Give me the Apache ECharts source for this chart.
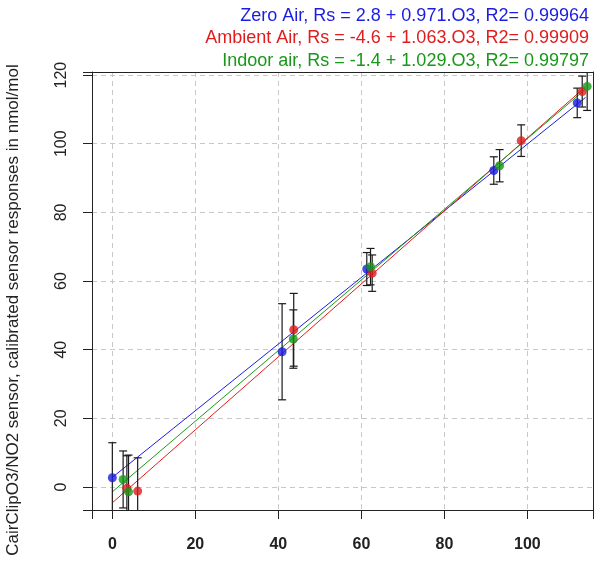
<!DOCTYPE html>
<html>
<head>
<meta charset="utf-8">
<script src="https://cdn.jsdelivr.net/npm/echarts@6/dist/echarts.min.js"></script>
<style>
  html, body { margin: 0; padding: 0; background: #fff; }
  #chart { width: 597px; height: 561px; }
</style>
</head>
<body>
<div id="chart"></div>
<script>
// Zero air
const zeroX = [0, 40.9, 61.3, 91.9, 112.0]
const zeroY = [2.7, 39.4, 63.5, 92.2, 111.9]
const zeroErr = [10.2, 14.0, 4.8, 4.0, 4.3]
// Ambient air
const ambientX = [3.5, 6.1, 43.7, 62.6, 98.5, 113.2]
const ambientY = [-0.4, -1.2, 45.8, 62.3, 100.9, 115.2]
const ambientErr = [9.5, 9.7, 10.6, 5.3, 4.6, 4.5]
// Indoor air
const indoorX = [2.6, 3.9, 43.6, 62.2, 93.3, 114.4]
const indoorY = [2.2, -1.4, 43.1, 64.2, 93.6, 116.7]
const indoorErr = [8.3, 10.7, 8.5, 5.3, 4.7, 7.0]

// fitted lines: intercept, slope (from the legend)
const fitIntercept = [2.8, -4.6, -1.4]
const fitSlope = [0.971, 1.063, 1.029]
const fitRange = [0, 114]

const legendLines = [
  'Zero Air, Rs = 2.8 + 0.971.O3, R2= 0.99964',
  'Ambient Air, Rs = -4.6 + 1.063.O3, R2= 0.99909',
  'Indoor air, Rs = -1.4 + 1.029.O3, R2= 0.99797'
]
const xTicks = [0, 20, 40, 60, 80, 100]
const yTicks = [0, 20, 40, 60, 80, 100, 120]
const xRange = [-4.9, 115.8]
const yRange = [-6.7, 120.9]

const colors = ['#1c1ce0', '#e01c1c', '#189818']
const font = 'Liberation Sans, Arial, sans-serif'
const axisColor = '#222'

const groups = [
  { x: zeroX, y: zeroY, err: zeroErr },
  { x: ambientX, y: ambientY, err: ambientErr },
  { x: indoorX, y: indoorY, err: indoorErr }
]

function pairs (xs, ys) {
  return xs.map((v, i) => [v, ys[i]])
}

function errData (g) {
  return g.x.map((v, i) => [v, g.y[i] - g.err[i], g.y[i] + g.err[i]])
}

function fitLine (k) {
  return fitRange.map(v => [v, fitIntercept[k] + fitSlope[k] * v])
}

// vertical error bar with caps, kept inside the plot box
function renderErr (params, api) {
  const cs = params.coordSys
  const top = cs.y
  const bottom = cs.y + cs.height
  const x = api.value(0)
  const pLo = api.coord([x, api.value(1)])
  const pHi = api.coord([x, api.value(2)])
  const style = { stroke: '#1a1a1a', lineWidth: 1.2 }
  const children = [{
    type: 'line',
    shape: { x1: pLo[0], y1: Math.min(pLo[1], bottom), x2: pHi[0], y2: Math.max(pHi[1], top) },
    style: style
  }]
  ;[pLo, pHi].forEach(p => {
    if (p[1] >= top && p[1] <= bottom) {
      children.push({
        type: 'line',
        shape: { x1: p[0] - 4, y1: p[1], x2: p[0] + 4, y2: p[1] },
        style: style
      })
    }
  })
  return { type: 'group', children: children }
}

const series = []
groups.forEach((g, k) => {
  series.push({
    type: 'line',
    data: fitLine(k),
    showSymbol: false,
    silent: true,
    lineStyle: { color: colors[k], width: 1 },
    z: 2
  })
})
groups.forEach(g => {
  series.push({
    type: 'custom',
    data: errData(g),
    encode: { x: 0, y: [1, 2] },
    renderItem: renderErr,
    silent: true,
    z: 3
  })
})
groups.forEach((g, k) => {
  series.push({
    type: 'scatter',
    data: pairs(g.x, g.y),
    symbolSize: 9,
    itemStyle: { color: colors[k] },
    z: 4
  })
})

// plain axis used only for the top / right side of the box
function boxAxis (pos, range) {
  return {
    type: 'value',
    position: pos,
    min: range[0],
    max: range[1],
    z: 5,
    axisLine: { show: true, onZero: false, lineStyle: { color: axisColor } },
    axisTick: { show: false },
    axisLabel: { show: false },
    splitLine: { show: false }
  }
}

const myChart = echarts.init(document.getElementById('chart'))
myChart.setOption({
  animation: false,
  textStyle: { fontFamily: font },
  grid: {
    left: 92,
    right: 4,
    top: 72,
    bottom: 51
  },
  graphic: legendLines.map((t, k) => ({
    type: 'text',
    right: 8,
    top: 7 + k * 22.5,
    style: {
      text: t,
      fill: colors[k],
      font: '18px ' + font
    }
  })).concat([{
    type: 'text',
    x: 13,
    y: 310,
    rotation: Math.PI / 2,
    style: {
      text: 'CairClipO3/NO2 sensor, calibrated sensor responses in nmol/mol',
      fill: '#222',
      font: '17px ' + font,
      textAlign: 'center',
      textVerticalAlign: 'middle'
    }
  }]),
  xAxis: [{
    type: 'value',
    position: 'bottom',
    min: xRange[0],
    max: xRange[1],
    minInterval: 20,
    maxInterval: 20,
    axisLine: { show: true, onZero: false, lineStyle: { color: axisColor } },
    axisTick: { show: true, length: 9, lineStyle: { color: axisColor } },
    axisLabel: {
      customValues: xTicks,
      margin: 27,
      fontSize: 16,
      fontWeight: 'bold',
      color: '#222'
    },
    splitLine: { lineStyle: { color: '#c8c8c8', type: [5, 4] } }
  }, boxAxis('top', xRange)],
  yAxis: [{
    type: 'value',
    position: 'left',
    min: yRange[0],
    max: yRange[1],
    minInterval: 20,
    maxInterval: 20,
    axisLine: { show: true, onZero: false, lineStyle: { color: axisColor } },
    axisTick: { show: true, length: 9, lineStyle: { color: axisColor } },
    axisLabel: {
      customValues: yTicks,
      rotate: 90,
      margin: 22,
      fontSize: 16,
      color: '#222'
    },
    splitLine: { lineStyle: { color: '#c8c8c8', type: [5, 4] } }
  }, boxAxis('right', yRange)],
  series: series
})
</script>
</body>
</html>
